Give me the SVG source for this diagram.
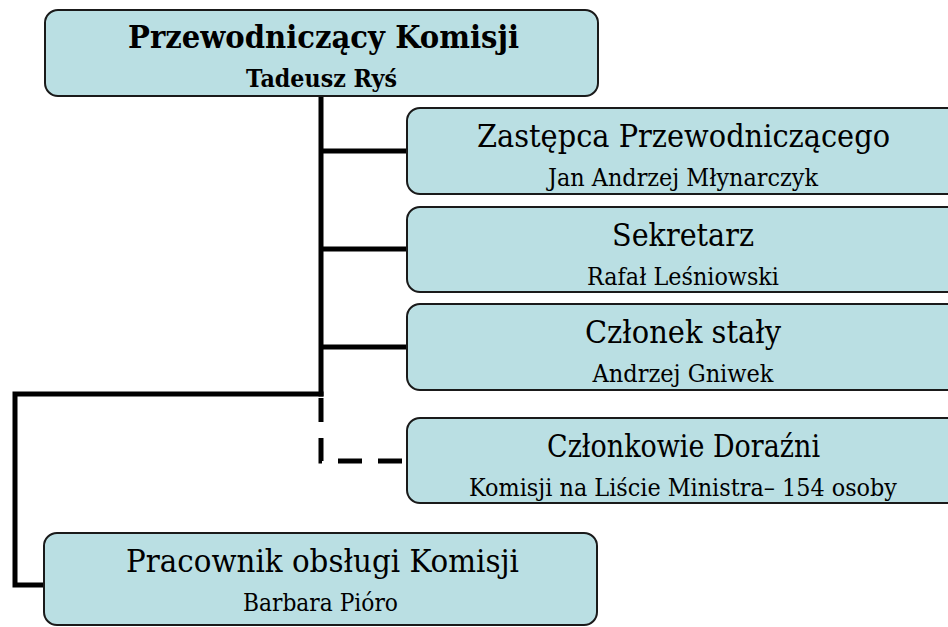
<svg xmlns="http://www.w3.org/2000/svg" width="948" height="627" viewBox="0 0 948 627">
<style>
.box{fill:#badfe3;stroke:#1a1a1a;stroke-width:2}
.t{font-family:"DejaVu Serif","Liberation Serif",serif;fill:#000;text-anchor:middle}
.h{font-size:32px}
.s{font-size:24px}
.b{font-weight:bold}
.c{fill:none;stroke:#000;stroke-width:5;stroke-linejoin:miter;stroke-linecap:butt}
.d{stroke-dasharray:24 16}
</style>
<rect width="948" height="627" fill="#fff"/>
<g id="connectors">
<path class="c" d="M321 96 V396.5"/>
<path class="c d" d="M321 398 V461 H407"/>
<path class="c" d="M321 151 H407"/>
<path class="c" d="M321 249 H407"/>
<path class="c" d="M321 347 H407"/>
<path class="c" d="M323.5 394 H15 V585 H44"/>
</g>
<g id="przewodniczacy">
<rect class="box" x="45" y="10" width="553" height="86" rx="13"/>
<text class="t h b" x="323.5" y="48" font-size="33" textLength="391" lengthAdjust="spacingAndGlyphs">Przewodniczący Komisji</text>
<text class="t s b" x="321.5" y="87" textLength="151" lengthAdjust="spacingAndGlyphs">Tadeusz Ryś</text>
</g>
<g id="zastepca">
<rect class="box" x="407" y="108" width="553" height="86" rx="13"/>
<text class="t h" x="683.5" y="147" textLength="413" lengthAdjust="spacingAndGlyphs">Zastępca Przewodniczącego</text>
<text class="t s" x="683" y="186" textLength="270" lengthAdjust="spacingAndGlyphs">Jan Andrzej Młynarczyk</text>
</g>
<g id="sekretarz">
<rect class="box" x="407" y="207" width="553" height="85" rx="13"/>
<text class="t h" x="683" y="246" textLength="142" lengthAdjust="spacingAndGlyphs">Sekretarz</text>
<text class="t s" x="683" y="285" textLength="192" lengthAdjust="spacingAndGlyphs">Rafał Leśniowski</text>
</g>
<g id="czlonek-staly">
<rect class="box" x="407" y="304" width="553" height="86" rx="13"/>
<text class="t h" x="683" y="343" textLength="196" lengthAdjust="spacingAndGlyphs">Członek stały</text>
<text class="t s" x="683" y="382" textLength="181" lengthAdjust="spacingAndGlyphs">Andrzej Gniwek</text>
</g>
<g id="czlonkowie-dorazni">
<rect class="box" x="407" y="418" width="553" height="85" rx="13"/>
<text class="t h" x="683.5" y="457" textLength="273" lengthAdjust="spacingAndGlyphs">Członkowie Doraźni</text>
<text class="t s" x="683" y="496" textLength="428" lengthAdjust="spacingAndGlyphs">Komisji na Liście Ministra– 154 osoby</text>
</g>
<g id="pracownik">
<rect class="box" x="44" y="533" width="553" height="92" rx="13"/>
<text class="t h" x="322.5" y="572" textLength="393" lengthAdjust="spacingAndGlyphs">Pracownik obsługi Komisji</text>
<text class="t s" x="320.5" y="611" textLength="155" lengthAdjust="spacingAndGlyphs">Barbara Pióro</text>
</g>
</svg>
